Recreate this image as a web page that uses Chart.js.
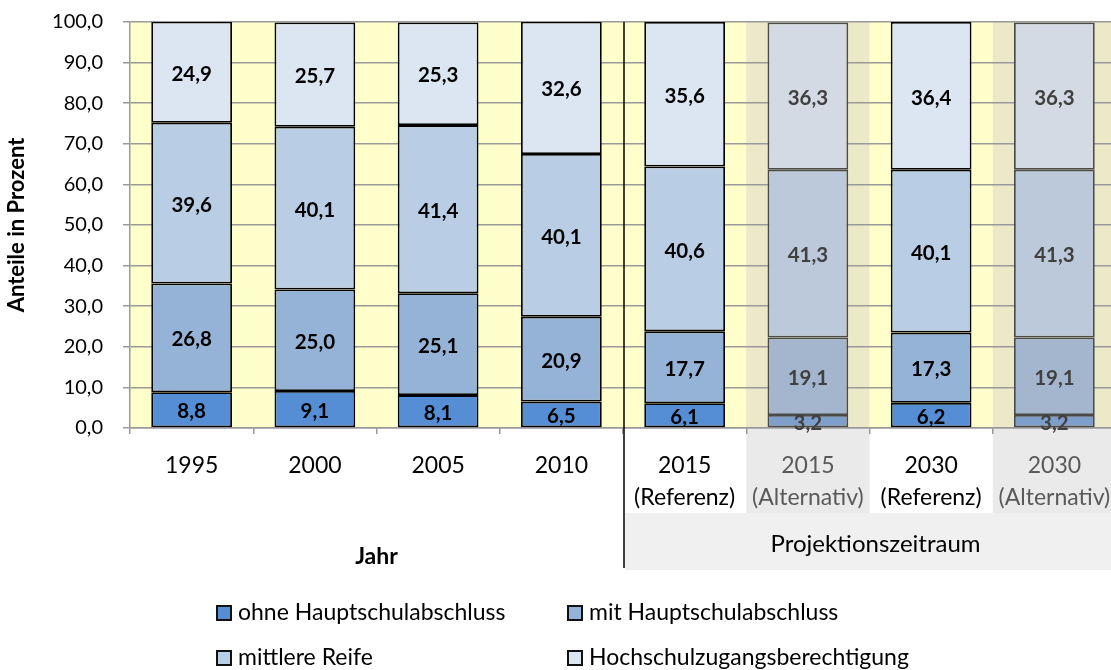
<!DOCTYPE html>
<html><head><meta charset="utf-8">
<script src="https://cdn.jsdelivr.net/npm/chart.js@4/dist/chart.umd.min.js"></script>
<style>html,body{margin:0;padding:0;background:#fff;overflow:hidden}#wrap{width:1116px;height:670px;position:relative}</style>
</head><body><div id="wrap"><canvas id="c" width="1116" height="670"></canvas></div>
<script>
const categories = [['1995'], ['2000'], ['2005'], ['2010'], ['2015','(Referenz)'], ['2015','(Alternativ)'], ['2030','(Referenz)'], ['2030','(Alternativ)']];
const isAlternative = [false,false,false,false,false,true,false,true];
const seriesNames = ['ohne Hauptschulabschluss','mit Hauptschulabschluss','mittlere Reife','Hochschulzugangsberechtigung'];
const ohneHauptschulabschluss = [8.8, 9.1, 8.1, 6.5, 6.1, 3.2, 6.2, 3.2];
const mitHauptschulabschluss = [26.8, 25.0, 25.1, 20.9, 17.7, 19.1, 17.3, 19.1];
const mittlereReife = [39.6, 40.1, 41.4, 40.1, 40.6, 41.3, 40.1, 41.3];
const hochschulzugang = [24.9, 25.7, 25.3, 32.6, 35.6, 36.3, 36.4, 36.3];
const yTicks = [0,10,20,30,40,50,60,70,80,90,100];
const yTitle = 'Anteile in Prozent';
const xTitle = 'Jahr';
const projectionLabel = 'Projektionszeitraum';
const historicalCount = 4;

const FONT = 'Lato, "Open Sans", sans-serif';
const refColors = ['#558ED5','#95B3D7','#B9CDE5','#DCE6F2'];
const altColors = ['#7E9ECB','#A3B6CE','#BCC9DA','#D3DAE3'];
const values = [ohneHauptschulabschluss, mitHauptschulabschluss, mittlereReife, hochschulzugang];

const datasets = values.map((v,i)=>({
  label: seriesNames[i],
  data: v,
  backgroundColor: isAlternative.map(a=>a?altColors[i]:refColors[i]),
  borderColor: isAlternative.map(a=>a?'#4a4a4a':'#000000'),
  borderWidth: 1.8,
  borderSkipped: false,
  barPercentage: 0.655,
  categoryPercentage: 1.0,
  legendColor: refColors[i]
}));

const bgPlugin = {
  id:'bg',
  beforeDraw(chart){
    const {ctx, chartArea:a, scales:{x}} = chart;
    const half = (x.getPixelForValue(1)-x.getPixelForValue(0))/2;
    ctx.save();
    ctx.fillStyle = '#FFFFCC';
    ctx.fillRect(a.left, a.top, a.right-a.left, a.bottom-a.top);
    const divX = x.getPixelForValue(historicalCount-1)+half;
    ctx.fillStyle = '#F0F0F0';
    ctx.fillRect(divX+2, 513, chart.width-divX, 57);
    isAlternative.forEach((alt,i)=>{
      if(!alt) return;
      const cx = x.getPixelForValue(i);
      ctx.fillStyle = '#EBE9C8';
      ctx.fillRect(cx-half, a.top, half*2, a.bottom-a.top);
      ctx.fillStyle = '#EAEAEA';
      ctx.fillRect(cx-half, a.bottom, half*2, 513-a.bottom);
    });
    ctx.restore();
  },
  afterDatasetsDraw(chart){
    const {ctx} = chart;
    ctx.save();
    ctx.font = 'bold 20.5px '+FONT;
    ctx.textAlign='center'; ctx.textBaseline='middle';
    chart.data.datasets.forEach((ds,di)=>{
      const meta = chart.getDatasetMeta(di);
      meta.data.forEach((bar,i)=>{
        const cy = (bar.y + bar.base)/2;
        ctx.fillStyle = isAlternative[i] ? '#404040' : '#000000';
        ctx.fillText(ds.data[i].toFixed(1).replace('.',','), bar.x, cy+2);
      });
    });
    ctx.restore();
  },
  afterDraw(chart){
    const {ctx, chartArea:a, scales:{x}} = chart;
    const half = (x.getPixelForValue(1)-x.getPixelForValue(0))/2;
    const divX = x.getPixelForValue(historicalCount-1)+half;
    ctx.save();
    ctx.strokeStyle='#000'; ctx.lineWidth=1.5;
    ctx.beginPath(); ctx.moveTo(divX+1, a.top); ctx.lineTo(divX+1, 568); ctx.stroke();
    ctx.fillStyle='#000';
    ctx.textAlign='center'; ctx.textBaseline='middle';
    ctx.font='24px '+FONT;
    ctx.fillText(projectionLabel, (divX+chart.width)/2+6, 544);
    ctx.font='bold 23px '+FONT;
    ctx.fillText(xTitle, (a.left+divX)/2, 557);
    ctx.font='23px '+FONT;
    ctx.textAlign='left';
    const pos = [[216,613],[567,613],[216,658],[567,658]];
    chart.data.datasets.forEach((ds,i)=>{
      const [lx,ly]=pos[i];
      ctx.fillStyle=ds.legendColor;
      ctx.fillRect(lx+1,ly-7,14,14);
      ctx.strokeStyle='#111'; ctx.lineWidth=2;
      ctx.strokeRect(lx+1,ly-7,14,14);
      ctx.fillStyle='#000';
      ctx.fillText(ds.label, lx+22, ly);
    });
    ctx.restore();
  }
};

new Chart(document.getElementById('c'), {
  type:'bar',
  data:{labels:categories, datasets},
  plugins:[bgPlugin],
  options:{
    responsive:false, animation:false,
    layout:{padding:{top:22,right:0,left:0,bottom:0}},
    plugins:{legend:{display:false}, tooltip:{enabled:false}},
    scales:{
      x:{
        stacked:true,
        afterFit(s){ s.height = 242; s.paddingLeft = 0; s.paddingRight = 0; },
        grid:{display:true, drawOnChartArea:false, offset:true, color:'#999', tickLength:6, lineWidth:1.5},
        border:{display:true, color:'#999', width:1.5},
        ticks:{autoSkip:false, maxRotation:0, padding:16,
          color:(c)=> isAlternative[c.index] ? '#595959' : '#000000',
          font:{family:FONT, size:23, lineHeight:1.38}}
      },
      y:{
        stacked:true, min:0, max:100,
        afterFit(s){ s.width = 130; s.paddingTop = 0; s.paddingBottom = 0; },
        afterBuildTicks(s){ s.ticks = yTicks.map(v=>({value:v})); },
        grid:{color:'#9a9a9a', lineWidth:1.5, tickLength:7},
        border:{display:true, color:'#999', width:1.5},
        ticks:{padding:20, color:'#000', font:{family:FONT, size:20},
          callback:(v)=>Number(v).toFixed(1).replace('.',',')},
        title:{display:true, text:yTitle, color:'#000', padding:{top:4,bottom:0},
          font:{family:FONT, size:22, weight:'bold'}}
      }
    }
  }
});
</script></body></html>
